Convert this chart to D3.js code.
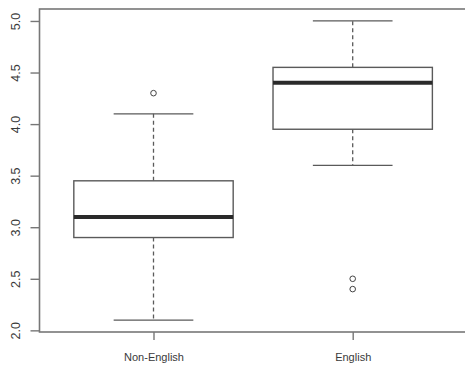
<!DOCTYPE html>
<html><head><meta charset="utf-8">
<script src="https://cdn.jsdelivr.net/npm/d3@7"></script>
<style>body{margin:0;background:#fff}svg{display:block}</style>
</head><body><svg id="c" width="465" height="365"></svg>
<script>
const categories = ["Non-English", "English"];
const lowerWhisker = [2.1, 3.6];
const q1 = [2.9, 3.95];
const medians = [3.1, 4.4];
const q3 = [3.45, 4.55];
const upperWhisker = [4.1, 5.0];
const outliers = [[4.3], [2.5, 2.4]];
const yTicks = [2.0, 2.5, 3.0, 3.5, 4.0, 4.5, 5.0];

const svg = d3.select("#c");
const frame = {left: 39.5, top: 9, right: 470, bottom: 332};
const dmin = 2.1, dmax = 5.0, pad = (dmax - dmin) * 0.04;
const y = d3.scaleLinear().domain([dmin - pad, dmax + pad]).range([frame.bottom, frame.top]);
const x = d3.scaleLinear().domain([1, 2]).range([153.5, 352.7]);
const unit = x(2) - x(1);
const boxW = 0.8 * unit, capW = 0.4 * unit;
const lineCol = "#5a5a5a", axisCol = "#777", textCol = "#3a3a3a";

// frame
svg.append("rect").attr("x", frame.left).attr("y", frame.top)
  .attr("width", frame.right - frame.left).attr("height", frame.bottom - frame.top)
  .attr("fill", "none").attr("stroke", axisCol).attr("stroke-width", 1.6);

// y axis
const yAxis = d3.axisLeft(y).tickValues(yTicks).tickFormat(d3.format(".1f")).tickSize(9).tickPadding(4);
const ga = svg.append("g").attr("transform", `translate(${frame.left},0)`).call(yAxis);
ga.select(".domain").remove();
ga.selectAll(".tick line").attr("stroke", axisCol).attr("stroke-width", 1.4);
ga.selectAll(".tick text").attr("fill", textCol).attr("font-family", "Liberation Sans, Arial, sans-serif")
  .attr("font-size", 12.5)
  .attr("transform", d => `rotate(-90)`)
  .attr("x", 0).attr("dy", 0)
  .attr("text-anchor", "middle")
  .each(function(d){ d3.select(this).attr("transform", null)
     .attr("transform", `translate(${-19.5},0) rotate(-90)`).attr("x", 0).attr("y", 0); });

// x axis
const xAxis = d3.axisBottom(x).tickValues([1, 2]).tickFormat((d, i) => categories[i]).tickSize(8).tickPadding(13);
const gx = svg.append("g").attr("transform", `translate(0,${frame.bottom})`).call(xAxis);
gx.select(".domain").remove();
gx.selectAll(".tick line").attr("stroke", axisCol).attr("stroke-width", 1.4);
gx.selectAll(".tick text").attr("fill", textCol).attr("font-family", "Liberation Sans, Arial, sans-serif").attr("font-size", 11);

// boxes
categories.forEach((c, i) => {
  const cx = x(i + 1);
  const g = svg.append("g");
  // whiskers
  g.append("line").attr("x1", cx).attr("x2", cx).attr("y1", y(q3[i])).attr("y2", y(upperWhisker[i]))
    .attr("stroke", lineCol).attr("stroke-width", 1.3).attr("stroke-dasharray", "4,3");
  g.append("line").attr("x1", cx).attr("x2", cx).attr("y1", y(q1[i])).attr("y2", y(lowerWhisker[i]))
    .attr("stroke", lineCol).attr("stroke-width", 1.3).attr("stroke-dasharray", "4,3");
  [upperWhisker[i], lowerWhisker[i]].forEach(v => {
    g.append("line").attr("x1", cx - capW / 2).attr("x2", cx + capW / 2).attr("y1", y(v)).attr("y2", y(v))
      .attr("stroke", lineCol).attr("stroke-width", 1.3);
  });
  g.append("rect").attr("x", cx - boxW / 2).attr("width", boxW)
    .attr("y", y(q3[i])).attr("height", y(q1[i]) - y(q3[i]))
    .attr("fill", "#fff").attr("stroke", lineCol).attr("stroke-width", 1.4);
  g.append("line").attr("x1", cx - boxW / 2).attr("x2", cx + boxW / 2).attr("y1", y(medians[i])).attr("y2", y(medians[i]))
    .attr("stroke", "#2a2a2a").attr("stroke-width", 4);
  outliers[i].forEach(v => {
    g.append("circle").attr("cx", cx).attr("cy", y(v)).attr("r", 2.8)
      .attr("fill", "none").attr("stroke", "#444").attr("stroke-width", 1);
  });
});
</script></body></html>
